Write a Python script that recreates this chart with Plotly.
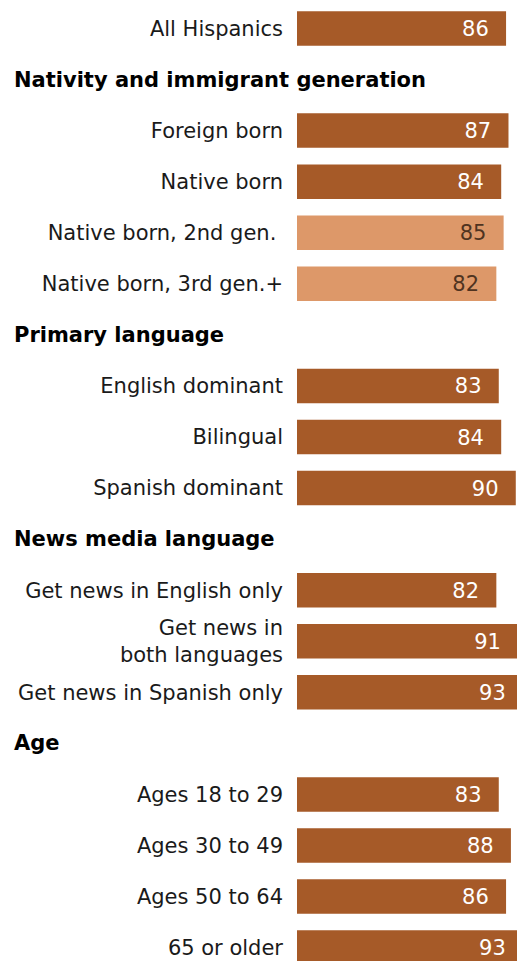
import plotly.graph_objects as go

# Share of Hispanics in each group (percent)
categories = [
    "All Hispanics",
    "Foreign born", "Native born", "Native born, 2nd gen.\u00a0", "Native born, 3rd gen.+",
    "English dominant", "Bilingual", "Spanish dominant",
    "Get news in English only", "Get news in<br>both languages", "Get news in Spanish only",
    "Ages 18 to 29", "Ages 30 to 49", "Ages 50 to 64", "65 or older",
]
values = [86, 87, 84, 85, 82, 83, 84, 90, 82, 91, 93, 83, 88, 86, 93]
# Sub-groups of the native born are shown in a lighter shade
is_subgroup = [False, False, False, True, True,
               False, False, False, False, False, False,
               False, False, False, False]

section_titles = ["Nativity and immigrant generation", "Primary language",
                  "News media language", "Age"]
section_sizes = [4, 3, 3, 4]

DARK = "#A65A28"
LIGHT = "#DD9869"
FONT = "DejaVu Sans"
SIZE = 21

# Row slots: the overall row first, then a header row before every section
bar_pos = [0]
header_pos = []
slot = 1
for n in section_sizes:
    header_pos.append(slot)
    slot += 1
    for _ in range(n):
        bar_pos.append(slot)
        slot += 1

bar_colors = [LIGHT if s else DARK for s in is_subgroup]
text_colors = ["#4F3320" if s else "#FFFFFF" for s in is_subgroup]

Y_RANGE = [18.263, -0.558]
LABEL_NUDGE = 0.045  # drops the value labels a touch to sit centred in the bars

fig = go.Figure()
fig.add_trace(go.Bar(
    x=values, y=bar_pos, orientation="h",
    marker=dict(color=bar_colors, line=dict(width=0)),
    width=0.676, hoverinfo="skip",
))
# Value labels: right-aligned just inside the end of each bar
# (the invisible marker sets the gap between label and bar end)
fig.add_trace(go.Scatter(
    x=values, y=bar_pos, yaxis="y2", mode="markers+text",
    text=[str(v) for v in values], textposition="middle left",
    textfont=dict(family=FONT, size=SIZE, color=text_colors),
    marker=dict(size=26, opacity=0), cliponaxis=True, hoverinfo="skip",
))

for title, pos in zip(section_titles, header_pos):
    fig.add_annotation(
        text=title, xref="paper", x=0, xshift=-285, xanchor="left",
        yref="y", y=pos, yanchor="middle", showarrow=False,
        font=dict(family=FONT, size=SIZE, color="#000000", weight="bold"),
    )

fig.update_layout(
    width=517, height=961,
    margin=dict(l=297, r=0, t=0, b=0),
    paper_bgcolor="white", plot_bgcolor="white",
    showlegend=False,
    xaxis=dict(range=[0, 90.5], visible=False, fixedrange=True),
    yaxis=dict(
        range=Y_RANGE, tickvals=bar_pos, ticktext=categories,
        tickfont=dict(family=FONT, size=SIZE, color="#1A1A1A"),
        showgrid=False, zeroline=False, showline=False, ticks="",
        ticklabelstandoff=13, fixedrange=True,
    ),
    yaxis2=dict(
        overlaying="y", visible=False, fixedrange=True,
        range=[Y_RANGE[0] - LABEL_NUDGE, Y_RANGE[1] - LABEL_NUDGE],
    ),
)

fig.write_html("out.html")
